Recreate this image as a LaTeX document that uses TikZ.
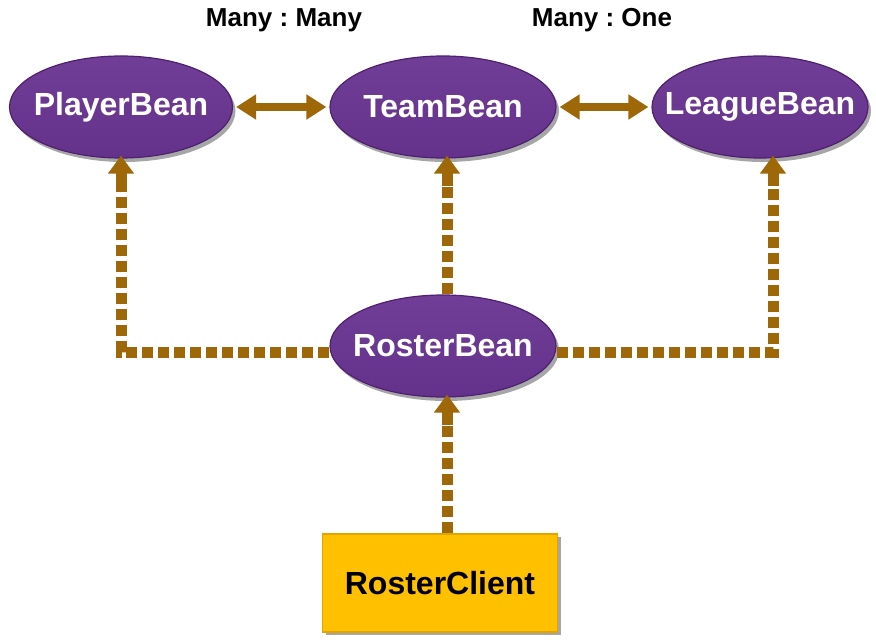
\documentclass[tikz,border=0pt]{standalone}
\usepackage{fontspec}
\setmainfont{Liberation Sans}
\usetikzlibrary{arrows.meta,shadows,shapes.geometric,calc}
\definecolor{beanpurple}{RGB}{100,50,138}
\definecolor{beanlight}{RGB}{112,62,150}
\definecolor{beanedge}{RGB}{78,32,112}
\definecolor{arrowbrown}{RGB}{158,104,8}
\definecolor{clientfill}{RGB}{255,192,0}
\definecolor{clientedge}{RGB}{226,165,0}
\tikzset{
  bean/.style={ellipse, minimum width=#1, minimum height=102pt, inner sep=0pt,
    top color=beanlight, bottom color=beanpurple, draw=beanedge, line width=1.2pt,
    drop shadow={shadow xshift=3pt, shadow yshift=-4pt, opacity=0.35, fill=black},
    text=white, font=\bfseries\fontsize{32}{36}\selectfont},
  clientbox/.style={rectangle, minimum width=235pt, minimum height=98pt, inner sep=0pt,
    fill=clientfill, draw=clientedge, line width=1.5pt,
    drop shadow={shadow xshift=3pt, shadow yshift=-3pt, opacity=0.35, fill=black},
    text=black, font=\bfseries\fontsize{32}{36}\selectfont},
  relarrow/.style={draw=arrowbrown, line width=8pt,
    {Triangle[width=24pt,length=20pt]}-{Triangle[width=24pt,length=20pt]}},
  deparrow/.style={draw=arrowbrown, line width=11pt, dash pattern=on 11pt off 5pt,
    -{Rectangle[width=11pt,length=12pt,sep=0pt]Triangle[width=25pt,length=18pt,sep=0pt]}},
  reltext/.style={font=\bfseries\fontsize{26}{30}\selectfont, text=black}
}
\begin{document}
\frenchspacing
\begin{tikzpicture}[x=1pt,y=-1pt]
\useasboundingbox (0,0) rectangle (876,642);
\node[reltext] (mm) at (284,20) {Many : Many};
\node[reltext] (mo) at (602,20) {Many : One};
\node[bean=223pt] (pb) at (121,107) {\makebox[0pt]{PlayerBean}};
\node[bean=226pt] (tb) at (443,107) {\makebox[0pt]{TeamBean}};
\node[bean=216pt] (lb) at (760,107) {\makebox[0pt]{LeagueBean}};
\node[bean=226pt] (rb) at (443,346) {\makebox[0pt]{RosterBean}};
\node[clientbox] (rc) at (440,583) {RosterClient};
% many-to-many / many-to-one
\draw[relarrow] ([xshift=3pt]pb.east) -- ([xshift=-3pt]tb.west);
\draw[relarrow] ([xshift=3pt]tb.east) -- ([xshift=-3pt]lb.west);
% dependencies
\draw[deparrow] (rb.west |- 0,352) -| ([yshift=3pt]pb.south);
\draw[deparrow] ([xshift=4pt]rb.north) -- ([xshift=4pt,yshift=3pt]tb.south);
\draw[deparrow] (rb.east |- 0,352) -| ([xshift=13pt,yshift=3pt]lb.south);
\draw[deparrow] ([xshift=7pt]rc.north) -- ([xshift=4pt,yshift=3pt]rb.south);
\end{tikzpicture}
\end{document}
